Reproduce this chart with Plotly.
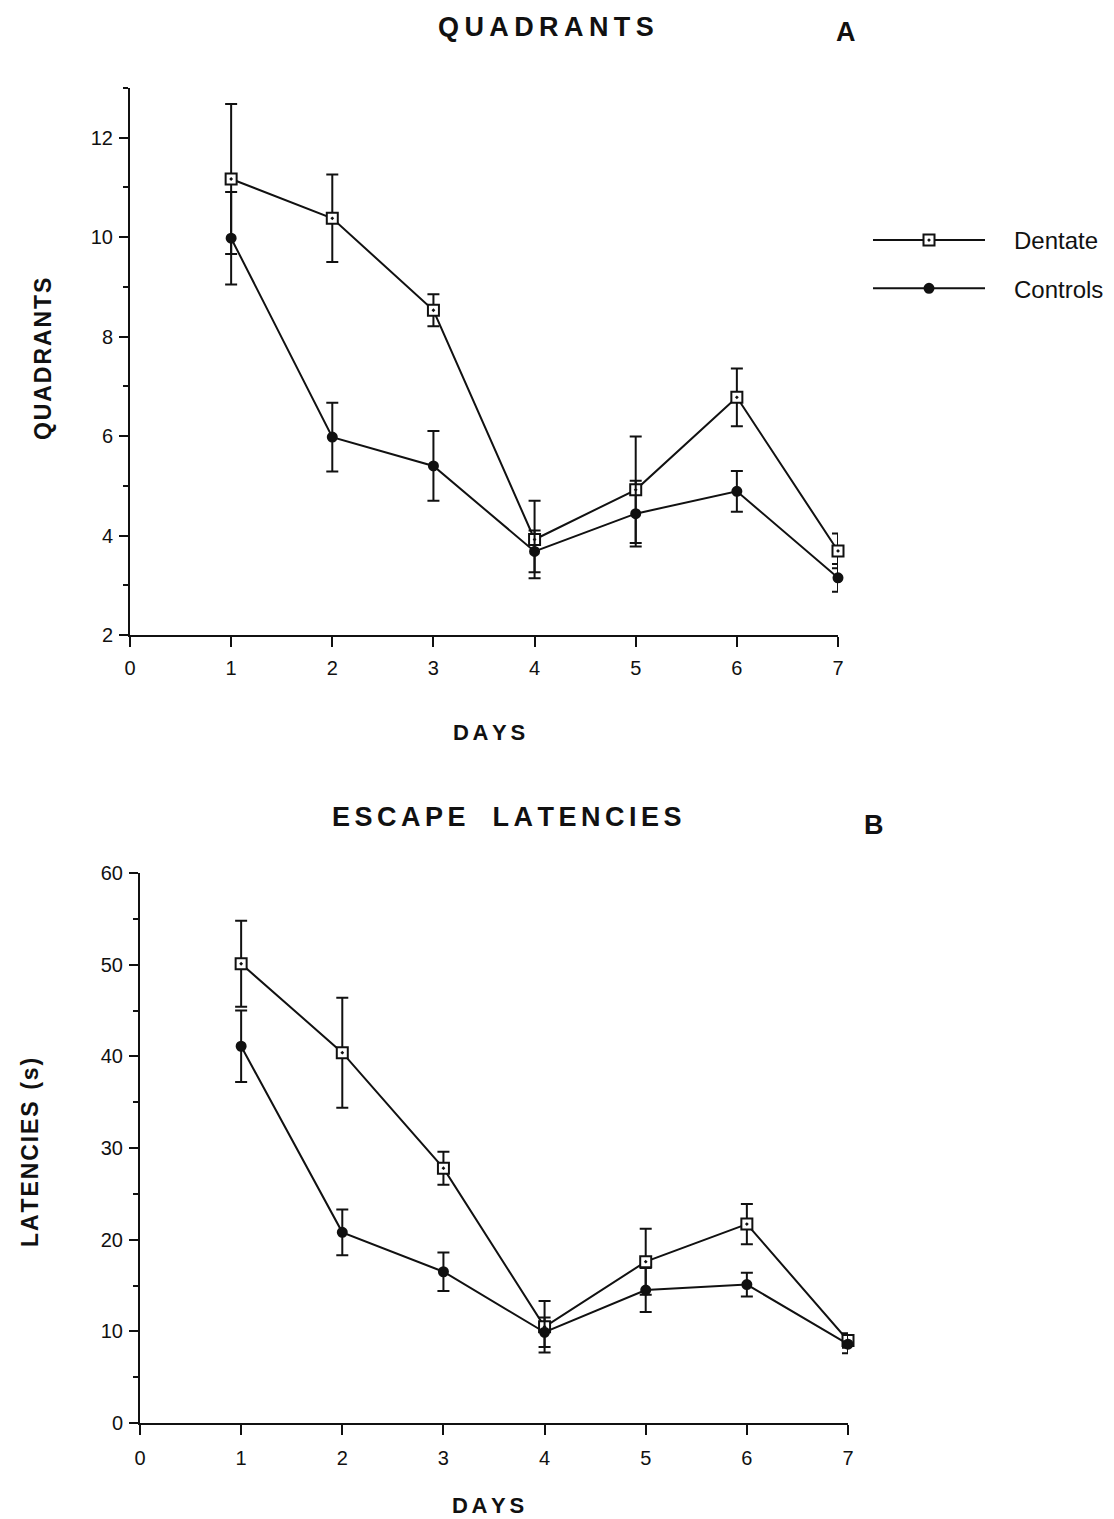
import plotly.graph_objects as go

days = [1, 2, 3, 4, 5, 6, 7]

# Panel A: quadrants
quad_dentate = [11.17, 10.38, 8.53, 3.92, 4.92, 6.78, 3.69]
quad_dentate_err = [1.51, 0.88, 0.32, 0.78, 1.07, 0.58, 0.35]
quad_controls = [9.98, 5.98, 5.40, 3.68, 4.44, 4.89, 3.15]
quad_controls_err = [0.93, 0.69, 0.70, 0.42, 0.66, 0.41, 0.28]

# Panel B: escape latencies (s)
lat_dentate = [50.1, 40.4, 27.8, 10.5, 17.6, 21.7, 9.0]
lat_dentate_err = [4.7, 6.0, 1.8, 2.8, 3.6, 2.2, 0.8]
lat_controls = [41.1, 20.8, 16.5, 9.9, 14.5, 15.1, 8.6]
lat_controls_err = [3.9, 2.5, 2.1, 1.6, 2.4, 1.3, 1.0]

W, H = 1114, 1519
FONT = "Liberation Sans, Arial, Helvetica, sans-serif"
BLACK = "#111111"


def spaced(s, sep="\u2009"):
    return sep.join(list(s))


def px(x):
    return x / W


def py(y):
    return 1 - y / H


fig = go.Figure()

def add_series(xa, ya, y, err, name, label, symbol, size, fill, show):
    fig.add_trace(go.Scatter(
        x=days, y=y, xaxis=xa, yaxis=ya, name=label, showlegend=show,
        legendgroup=name, mode="lines+markers", cliponaxis=False,
        line=dict(color=BLACK, width=2),
        marker=dict(symbol=symbol, size=size, color=fill,
                    line=dict(color=BLACK, width=2)),
        error_y=dict(type="data", array=err, visible=True, color=BLACK,
                     thickness=2, width=6),
    ))

add_series("x", "y", quad_dentate, quad_dentate_err, "Dentate", "\u2003Dentate", "square-dot", 11, "white", True)
add_series("x", "y", quad_controls, quad_controls_err, "Controls", "\u2003Controls", "circle", 9, BLACK, True)
add_series("x2", "y2", lat_dentate, lat_dentate_err, "Dentate", "Dentate", "square-dot", 11, "white", False)
add_series("x2", "y2", lat_controls, lat_controls_err, "Controls", "Controls", "circle", 9, BLACK, False)

axis_common = dict(showline=True, linecolor=BLACK, linewidth=2, ticks="outside",
                   tickcolor=BLACK, tickwidth=2, showgrid=False, zeroline=False,
                   tickfont=dict(family=FONT, size=20, color=BLACK))

fig.update_layout(
    width=W, height=H, margin=dict(l=0, r=0, t=0, b=0, autoexpand=False),
    paper_bgcolor="white", plot_bgcolor="white",
    font=dict(family=FONT, color=BLACK),
    xaxis=dict(domain=[px(130), px(838)], range=[0, 7], tickvals=list(range(0, 8)),
               ticklen=10, anchor="y", ticklabelstandoff=4, **axis_common),
    yaxis=dict(domain=[py(635), py(88)], range=[2, 13], tickvals=[2, 4, 6, 8, 10, 12],
               ticklen=9, anchor="x", ticklabelstandoff=2,
               minor=dict(tickvals=[3, 5, 7, 9, 11, 13], ticklen=5, tickwidth=2,
                          tickcolor=BLACK, ticks="outside"),
               **axis_common),
    xaxis2=dict(domain=[px(140), px(848)], range=[0, 7], tickvals=list(range(0, 8)),
                ticklen=10, anchor="y2", ticklabelstandoff=6, **axis_common),
    yaxis2=dict(domain=[py(1423), py(873)], range=[0, 60], tickvals=[0, 10, 20, 30, 40, 50, 60],
                ticklen=9, anchor="x2", ticklabelstandoff=2,
                minor=dict(tickvals=[5, 15, 25, 35, 45, 55], ticklen=5, tickwidth=2,
                           tickcolor=BLACK, ticks="outside"),
                **axis_common),
    legend=dict(x=px(868), y=py(218), xanchor="left", yanchor="top",
                font=dict(family=FONT, size=24, color=BLACK),
                itemwidth=112, traceorder="grouped", tracegroupgap=14,
                bgcolor="rgba(0,0,0,0)"),
)

def ann(text, x, y, size, bold=True, angle=0):
    fig.add_annotation(
        text=f"<b>{text}</b>" if bold else text, x=px(x), y=py(y),
        xref="paper", yref="paper", showarrow=False, textangle=angle,
        xanchor="center", yanchor="middle",
        font=dict(family=FONT, size=size, color=BLACK))

ann(spaced("QUADRANTS"), 546, 27, 27)
ann("A", 846, 32, 27)
ann(spaced("ESCAPE", "\u2006") + "\u2003" + spaced("LATENCIES", "\u2006"), 506, 817, 27)
ann("B", 874, 825, 27)
ann(spaced("DAYS", "\u2006"), 489, 732, 22)
ann(spaced("DAYS", "\u2006"), 488, 1505, 22)
ann(spaced("QUADRANTS", "\u200a"), 43, 359, 23, angle=-90)
ann(spaced("LATENCIES", "\u200a") + "\u2002" + spaced("(s)", "\u200a"), 30, 1153, 23, angle=-90)

fig.write_html("out.html")
